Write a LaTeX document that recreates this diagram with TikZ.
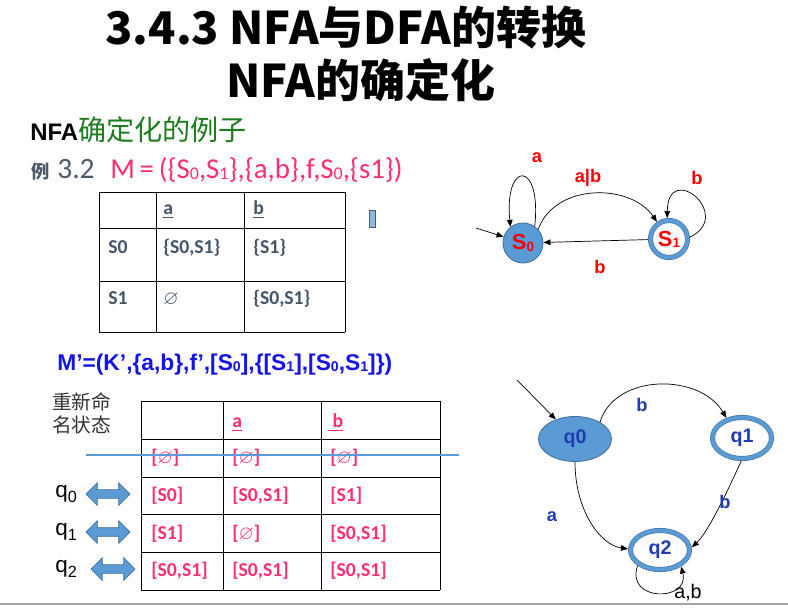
\documentclass[tikz,border=0pt]{standalone}
\usepackage{amsmath,amssymb}
\usepackage{fontspec}
\setmainfont{Carlito}
\newfontfamily\cjk{Noto Sans CJK SC}
\newfontfamily\arial{Liberation Sans}
\usetikzlibrary{arrows.meta,shapes.geometric,shapes.arrows}

\definecolor{stblue}{HTML}{5B9BD5}
\definecolor{stedge}{HTML}{41719C}
\definecolor{pinktxt}{HTML}{FF2F72}
\definecolor{slate}{HTML}{44546A}
\definecolor{exgray}{HTML}{4F5B6B}
\definecolor{titgreen}{HTML}{1E7B1E}
\definecolor{mblue}{HTML}{1414E6}
\definecolor{lblblue}{HTML}{1F3DAF}
\newcommand{\lo}[1]{\raisebox{-0.1ex}{\scalebox{0.62}{#1}}}
\newcommand{\sbs}[1]{\raisebox{-0.5ex}{\scalebox{0.72}{#1}}}
\newcommand{\emp}{\ensuremath{\varnothing}}

\begin{document}
\begin{tikzpicture}[x=0.025cm, y=-0.025cm,
    state/.style={circle, draw=stedge, fill=stblue, line width=0.6pt, minimum size=1cm, inner sep=0pt, font=\arial\bfseries\fontsize{15.5}{15.5}\selectfont},
    final/.style={ellipse, draw=stedge, line width=0.4pt, double=stblue, double distance=2.8pt, fill=white, inner sep=0pt, outer sep=1.8pt},
    arr/.style={-{Triangle[length=5pt,width=4pt]}, line width=0.5pt},
    lab/.style={font=\arial\bfseries\fontsize{13}{13}\selectfont, text=red, inner sep=0pt},
    qlab/.style={font=\arial\bfseries\fontsize{13}{13}\selectfont, text=lblblue, inner sep=0pt},
    tone/.style={anchor=base west, inner sep=0pt, text=slate, font=\bfseries\fontsize{14}{14}\selectfont},
    ttwo/.style={anchor=base west, inner sep=0pt, text=pinktxt, font=\bfseries\fontsize{14}{14}\selectfont},
    dbl/.style={double arrow, draw=stedge, fill=stblue, line width=0.5pt, minimum height=1.1cm, minimum width=0.55cm, inner xsep=0pt, inner ysep=0.1cm, double arrow head extend=0.175cm}
]
\useasboundingbox (0,0) rectangle (788,607);

% titles
\node[font=\cjk\bfseries\fontsize{32}{32}\selectfont] (title) at (346,28) {3.4.3 NFA与DFA的转换};
\node[font=\cjk\bfseries\fontsize{32}{32}\selectfont] (subtitle) at (361,80) {NFA的确定化};
\node[anchor=base west, inner sep=0pt] (extitle) at (30,140) {{\arial\bfseries\fontsize{17}{17}\selectfont NFA}{\cjk\fontsize{20}{20}\selectfont\color{titgreen}确定化的例子}};
\node[anchor=base west, inner sep=0pt, text=exgray, font=\cjk\bfseries\fontsize{13}{13}\selectfont] (exchar) at (31,178) {例};
\node[anchor=base west, inner sep=0pt, text=exgray, font=\fontsize{21}{21}\selectfont] (exnum) at (57,178) {3.2};
\node[anchor=base west, inner sep=0pt, text=pinktxt, font=\fontsize{20.5}{20.5}\selectfont] (mdef) at (110,178) {M\,=\,(\{S\lo{0},S\lo{1}\},\{a,b\},f,S\lo{0},\{s1\})};

% table of f
\foreach \x in {99,156,244,345} \draw (\x,192) -- (\x,332);
\foreach \y in {192,228,281,332} \draw (99,\y) -- (345,\y);
\node[tone] (ha) at (163,214) {\underline{a}};
\node[tone] (hb) at (253,214) {\underline{b}};
\node[tone] (rs0) at (108,253) {S0};
\node[tone] (s0a) at (163,253) {\{S0,S1\}};
\node[tone] (s0b) at (253,253) {\{S1\}};
\node[tone] (rs1) at (108,304) {S1};
\node[tone] (s1a) at (163,304) {\emp};
\node[tone] (s1b) at (253,304) {\{S0,S1\}};
\draw[draw=exgray, fill=stblue!70, line width=0.6pt] (369,210) rectangle (375,227);

% NFA
\node[state] (S0) at (523,243) {\textcolor{red}{S\lo{0}}};
\node[final, minimum width=0.925cm, minimum height=0.925cm, font=\arial\bfseries\fontsize{15.5}{15.5}\selectfont] (S1) at (669,239) {\textcolor{red}{S\lo{1}}};
\coordinate (s0in) at (476,228);
\draw[arr] (s0in) -- (S0);
\draw[arr] (S0.55) .. controls (542,160) and (504,160) .. (S0.128);
\draw[arr] (S0.42) .. controls (555,183) and (630,183) .. (S1.125);
\draw[arr] (S1.5) .. controls (735,215) and (668,160) .. (S1.95);
\draw[arr] (S1) -- (S0);
\node[lab] (la) at (537,158) {a};
\node[lab] (lab) at (588,178) {a|b};
\node[lab] (lb1) at (697,178) {b};
\node[lab] (lb2) at (600,267) {b};

% renamed table
\node[anchor=base west, inner sep=0pt, text=mblue, font=\arial\bfseries\fontsize{16.2}{16.2}\selectfont] (mprime) at (57,370) {M’=(K’,\{a,b\},f’,[S\lo{0}],\{[S\lo{1}],[S\lo{0},S\lo{1}]\})};
\node[anchor=north west, align=left, inner sep=0pt, text=black!80, font=\cjk\fontsize{14}{17}\selectfont] (rename) at (52,392) {重新命\\名状态};
\foreach \x in {141,223,321,440} \draw (\x,401) -- (\x,590);
\foreach \y in {401,439,477,514,552,590} \draw (141,\y) -- (440,\y);
\node[ttwo] (ta) at (232,427) {\underline{a}};
\node[ttwo] (tb) at (328,427) {\underline{\ b}};
\node[ttwo] (e1) at (151,463) {[\emp]};
\node[ttwo] (e2) at (232,463) {[\emp]};
\node[ttwo] (e3) at (330,463) {[\emp]};
\node[ttwo] (r0a) at (151,501) {[S0]};
\node[ttwo] (r0b) at (232,501) {[S0,S1]};
\node[ttwo] (r0c) at (330,501) {[S1]};
\node[ttwo] (r1a) at (151,539) {[S1]};
\node[ttwo] (r1b) at (232,539) {[\emp]};
\node[ttwo] (r1c) at (330,539) {[S0,S1]};
\node[ttwo] (r2a) at (151,576) {[S0,S1]};
\node[ttwo] (r2b) at (232,576) {[S0,S1]};
\node[ttwo] (r2c) at (330,576) {[S0,S1]};
\draw[stblue, line width=2pt] (86,455) -- (459,455);
\node[anchor=base west, inner sep=0pt, font=\arial\fontsize{16}{16}\selectfont] (q0name) at (55,497) {q\sbs{0}};
\node[anchor=base west, inner sep=0pt, font=\arial\fontsize{16}{16}\selectfont] (q1name) at (55,535) {q\sbs{1}};
\node[anchor=base west, inner sep=0pt, font=\arial\fontsize{16}{16}\selectfont] (q2name) at (55,572) {q\sbs{2}};
\node[dbl] (d0) at (108,494) {};
\node[dbl] (d1) at (108,532) {};
\node[dbl] (d2) at (113,569) {};

% DFA
\node[ellipse, draw=stedge, fill=stblue, line width=0.6pt, minimum width=1.825cm, minimum height=1.125cm, inner sep=0pt, text=lblblue, font=\arial\bfseries\fontsize{14}{14}\selectfont] (q0) at (575,439) {q0};
\node[final, minimum width=1.475cm, minimum height=1.025cm, text=lblblue, font=\arial\bfseries\fontsize{14}{14}\selectfont] (q1) at (742,438) {q1};
\node[final, minimum width=1.475cm, minimum height=0.975cm, text=lblblue, font=\arial\bfseries\fontsize{14}{14}\selectfont] (q2) at (660,550) {q2};
\coordinate (q0in) at (517,380);
\draw[arr] (q0in) -- (q0);
\draw[arr] (q0.34) .. controls (615,373) and (700,373) .. (q1.128);
\draw[arr] (q0.south) .. controls (575,510) and (600,545) .. (q2.178);
\draw[arr] (q1.268) .. controls (719,510) and (705,535) .. (q2.5);
\draw[arr] (q2.215) .. controls (625,602) and (690,602) .. (q2.322);
\node[qlab] (lq01) at (642,405) {b};
\node[qlab] (lq02) at (552,517) {a};
\node[qlab] (lq12) at (725,502) {b};
\node[inner sep=0pt, font=\arial\fontsize{14}{14}\selectfont] (lq22) at (688,593) {a,b};

\draw[black!35, line width=1.5pt] (0,604) -- (788,604);
\end{tikzpicture}
\end{document}
